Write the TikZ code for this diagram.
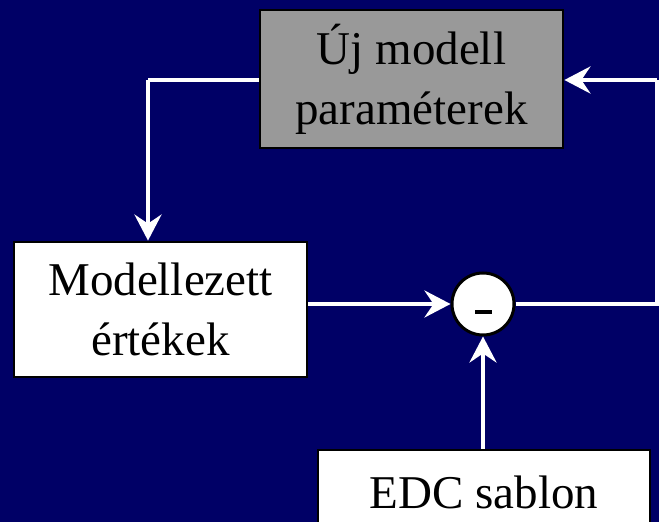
\documentclass[tikz,border=0pt]{standalone}
\usepackage{fontspec}
\setmainfont{Liberation Serif}
\usetikzlibrary{arrows.meta}
\definecolor{navy}{RGB}{0,0,102}
\definecolor{boxgray}{RGB}{153,153,153}
\tikzset{
  blk/.style={draw=black, line width=2.8pt, fill=white, inner sep=0pt, align=center,
              font=\fontsize{47}{60}\selectfont, text=black},
  conn/.style={draw=white, line width=4pt,
               -{Stealth[length=26pt, width=27pt, inset=9pt]}},
  plain/.style={draw=white, line width=4pt}
}
\begin{document}
\begin{tikzpicture}[x=1pt,y=1pt]
\fill[navy] (0,0) rectangle (659,522);
\useasboundingbox (0,0) rectangle (659,522);
\begin{scope}
\clip (0,0) rectangle (659,522);
\node[blk, fill=boxgray, minimum width=303pt, minimum height=138pt] (gray) at (411.5,443) {Új modell\\paraméterek};
\node[blk, minimum width=293pt, minimum height=135pt] (model) at (160.5,212.5) {Modellezett\\értékek};
\node[draw=black, line width=3pt, fill=white, circle, minimum size=62pt, inner sep=0pt] (sum) at (483,218) {};
\node[inner sep=0pt, fill=black, minimum width=17pt, minimum height=4.5pt] (minus) at (483,210) {};
\node[blk, minimum width=332pt, minimum height=84pt] (edc) at (484,30) {EDC sablon};
\coordinate (c1) at (148,442);
\coordinate (c2) at (657,442);
\draw[plain] (gray.west |- c1) -- (c1);
\draw[conn] (c1) -- (c1 |- model.north);
\draw[conn] (model.east |- sum.west) -- (sum.west);
\draw[plain] (sum.east) -| (c2);
\draw[conn] (c2) -- (gray.east |- c2);
\draw[conn] (sum.south |- edc.north) -- (sum.south);
\end{scope}
\end{tikzpicture}
\end{document}
